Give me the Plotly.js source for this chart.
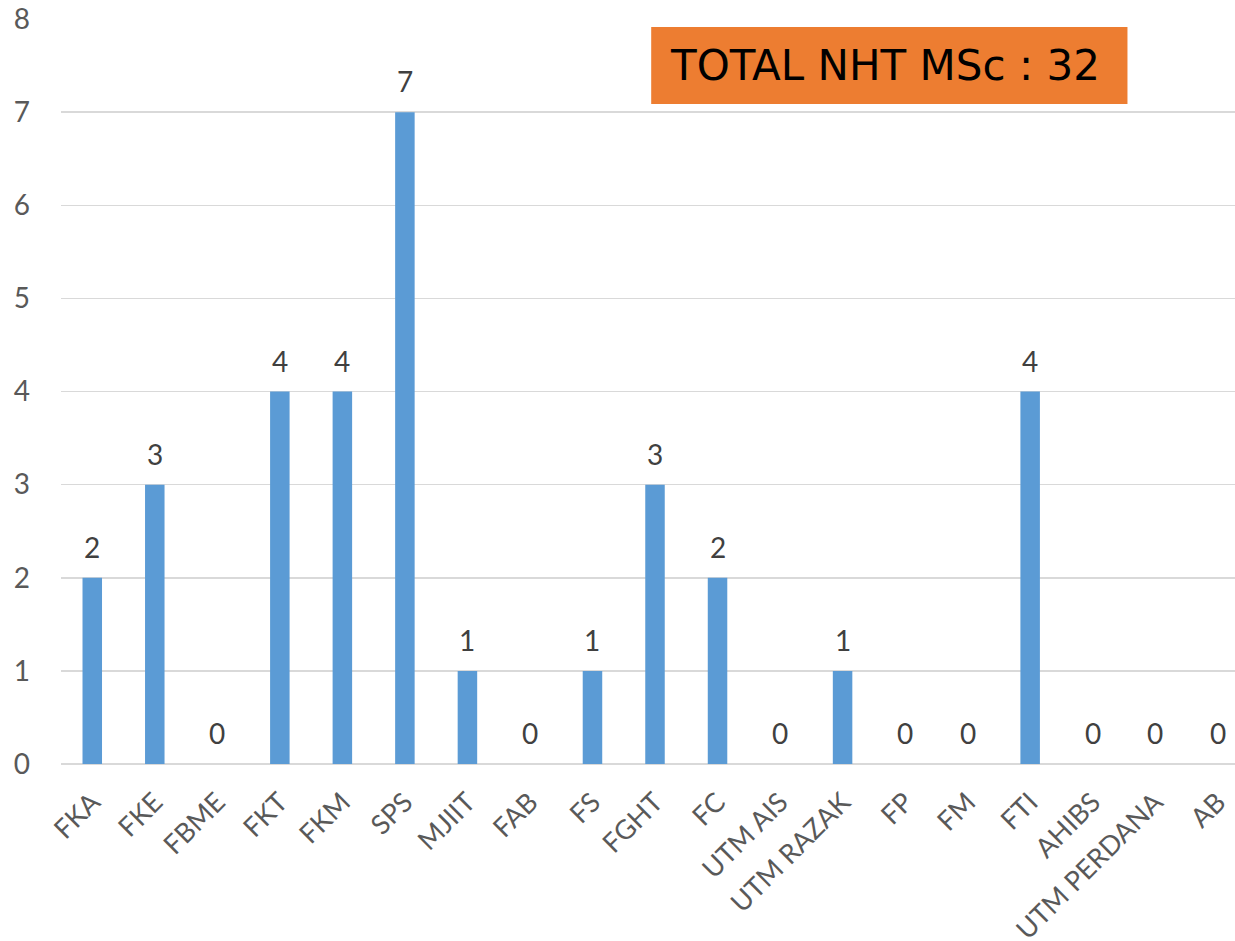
<!DOCTYPE html>
<html>
<head>
<meta charset="utf-8">
<script src="https://cdn.plot.ly/plotly-3.0.1.min.js"></script>
<style>
html,body{margin:0;padding:0;overflow:hidden;background:#fff;}
#chart{width:1249px;height:941px;}
</style>
</head>
<body>
<div id="chart"></div>
<script>
const categories = ["FKA","FKE","FBME","FKT","FKM","SPS","MJIIT","FAB","FS","FGHT","FC","UTM AIS","UTM RAZAK","FP","FM","FTI","AHIBS","UTM PERDANA","AB"];
const values = [2,3,0,4,4,7,1,0,1,3,2,0,1,0,0,4,0,0,0];
const yTicks = [0,1,2,3,4,5,6,7,8];
const totalLabel = "TOTAL NHT MSc : 32";

const trace = {
  type: "bar",
  x: categories,
  y: values,
  marker: {color: "#5B9BD5"},
  hoverinfo: "x+y"
};

const valueLabels = categories.map((c, i) => ({
  x: c, y: values[i], xref: "x", yref: "y",
  text: String(values[i]),
  showarrow: false,
  xanchor: "center", yanchor: "bottom",
  yshift: 12,
  font: {family: "Lato, 'Open Sans', sans-serif", size: 28, color: "#404040"}
}));

const layout = {
  width: 1249,
  height: 941,
  margin: {l: 61, r: 0, t: 19, b: 177},
  paper_bgcolor: "#ffffff",
  plot_bgcolor: "#ffffff",
  bargap: 0.688,
  showlegend: false,
  font: {family: "Lato, 'Open Sans', sans-serif", color: "#595959"},
  xaxis: {
    type: "category",
    tickangle: -45,
    tickfont: {size: 27, color: "#595959"},
    showgrid: false,
    showline: false,
    ticks: "",
    ticklabelstandoff: 16,
    zeroline: false
  },
  yaxis: {
    range: [0, 8],
    tickvals: yTicks,
    ticktext: yTicks.map(String),
    tickfont: {size: 28, color: "#595959"},
    showgrid: true,
    gridcolor: "#d9d9d9",
    gridwidth: 1.5,
    zeroline: true,
    zerolinecolor: "#d9d9d9",
    zerolinewidth: 1.5,
    showline: false,
    ticks: "",
    ticklabelstandoff: 30
  },
  shapes: [{
    type: "rect",
    xref: "paper", yref: "paper",
    x0: 0.4968, x1: 0.8977,
    y0: 0.8859, y1: 0.9893,
    fillcolor: "#ED7D31",
    line: {width: 0},
    layer: "above"
  }],
  annotations: valueLabels.concat([{
    xref: "paper", yref: "paper",
    x: 0.6935, y: 0.9376,
    xanchor: "center", yanchor: "middle",
    text: totalLabel,
    showarrow: false,
    font: {family: "'DejaVu Sans', Verdana, sans-serif", size: 42, color: "#000000"}
  }])
};

Plotly.newPlot("chart", [trace], layout, {displayModeBar: false, staticPlot: true});
</script>
</body>
</html>
